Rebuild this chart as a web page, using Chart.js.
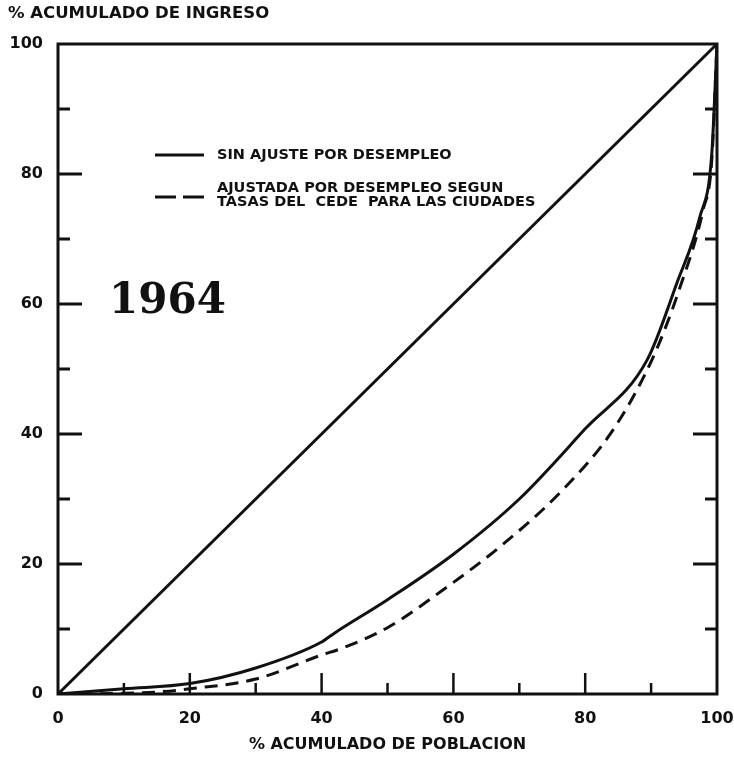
<!DOCTYPE html>
<html>
<head>
<meta charset="utf-8">
<script src="https://cdn.jsdelivr.net/npm/chart.js@4/dist/chart.umd.min.js"></script>
<style>
  body { margin: 0; background: #fff; }
  #wrap { width: 734px; height: 759px; }
</style>
</head>
<body>
<div id="wrap"><canvas id="lorenzChart" width="734" height="759"></canvas></div>
<script>
// % acumulado de poblacion / % acumulado de ingreso
const poblacionSin = [0, 10, 20, 30, 40, 42, 50, 60, 70, 80, 89.4, 93.9, 97.4, 99.2, 100];
const ingresoSin   = [0, 0.8, 1.6, 4, 8, 9.4, 14.5, 21.5, 30, 40.8, 51.4, 63.2, 73.4, 83, 100];

const poblacionAjust = [0, 10, 15, 20, 30, 40, 43, 50, 58.4, 67, 76.2, 84.2, 90.3, 94.4, 97.9, 99.2, 100];
const ingresoAjust   = [0, 0.1, 0.3, 0.8, 2.3, 6, 7, 10.2, 16, 22.6, 31, 40.6, 51.8, 62.6, 74.5, 82, 100];

const igualdadX = [0, 100];
const igualdadY = [0, 100];

const etiquetaSin = 'SIN AJUSTE POR DESEMPLEO';
const etiquetaAjust = 'AJUSTADA POR DESEMPLEO SEGUN\nTASAS DEL  CEDE  PARA LAS CIUDADES';
const tituloX = '% ACUMULADO DE POBLACION';
const tituloY = '% ACUMULADO DE INGRESO';
const anio = '1964';

const tinta = '#111';
const fuente = '"DejaVu Sans", "Liberation Sans", sans-serif';

function puntos(xs, ys) {
    return xs.map((x, i) => ({ x: x, y: ys[i] }));
}

// marco, marcas hacia adentro, leyenda y textos
const marcoPlugin = {
    id: 'marco',
    afterDraw(chart) {
        const c = chart.ctx;
        const a = chart.chartArea;
        const sx = chart.scales.x, sy = chart.scales.y;
        c.save();
        c.strokeStyle = tinta;
        c.lineWidth = 3;
        c.lineCap = 'square';
        c.strokeRect(a.left, a.top, a.right - a.left, a.bottom - a.top);

        c.lineCap = 'butt';
        c.lineWidth = 3;
        sy.ticks.forEach(t => {
            if (t.value <= 0 || t.value >= 100) return;
            const y = sy.getPixelForValue(t.value);
            const largo = t.value % 20 === 0 ? 24 : 12;
            c.beginPath();
            c.moveTo(a.left, y); c.lineTo(a.left + largo, y);
            c.moveTo(a.right, y); c.lineTo(a.right - largo, y);
            c.stroke();
        });
        c.lineWidth = 2.5;
        sx.ticks.forEach(t => {
            if (t.value <= 0 || t.value >= 100) return;
            const x = sx.getPixelForValue(t.value);
            const largo = t.value % 20 === 0 ? 21 : 11;
            c.beginPath();
            c.moveTo(x, a.bottom); c.lineTo(x, a.bottom - largo);
            c.stroke();
        });

        // titulo del eje y
        c.fillStyle = tinta;
        c.font = 'bold 16.5px ' + fuente;
        c.textBaseline = 'middle';
        c.textAlign = 'left';
        c.fillText(tituloY, 8, 14);

        // leyenda
        c.font = 'bold 14.5px ' + fuente;
        const filas = [155, 197];
        chart.data.datasets.filter(d => d.label).forEach((d, i) => {
            const y = filas[i];
            c.strokeStyle = d.borderColor;
            c.lineWidth = 3;
            c.setLineDash(d.borderDash ? [21, 7] : []);
            c.beginPath();
            c.moveTo(155, y); c.lineTo(204, y);
            c.stroke();
            c.setLineDash([]);
            const lineas = d.label.split('\n');
            lineas.forEach((l, j) => {
                const ty = lineas.length > 1 ? y - 9 + j * 14 : y;
                c.fillText(l, 217, ty);
            });
        });

        // anio
        c.font = 'bold 42px "DejaVu Serif", "Liberation Serif", serif';
        c.textBaseline = 'alphabetic';
        c.fillText(anio, 109, 313);
        c.restore();
    }
};

const ctx = document.getElementById('lorenzChart').getContext('2d');
const lorenzChart = new Chart(ctx, {
    type: 'scatter',
    data: {
        datasets: [
            {
                label: etiquetaSin,
                data: puntos(poblacionSin, ingresoSin),
                showLine: true,
                borderColor: tinta,
                borderWidth: 3,
                pointRadius: 0,
                cubicInterpolationMode: 'monotone'
            },
            {
                label: etiquetaAjust,
                data: puntos(poblacionAjust, ingresoAjust),
                showLine: true,
                borderColor: tinta,
                borderWidth: 3,
                borderDash: [13, 8],
                pointRadius: 0,
                cubicInterpolationMode: 'monotone'
            },
            {
                label: '',
                data: puntos(igualdadX, igualdadY),
                showLine: true,
                borderColor: tinta,
                borderWidth: 3,
                pointRadius: 0
            }
        ]
    },
    options: {
        responsive: false,
        animation: false,
        devicePixelRatio: 1,
        layout: { padding: { left: 5, top: 44, right: 17, bottom: 5 } },
        plugins: {
            legend: { display: false },
            tooltip: { enabled: false }
        },
        scales: {
            x: {
                type: 'linear',
                min: 0,
                max: 100,
                grid: { display: false, drawTicks: false },
                border: { display: false },
                ticks: {
                    stepSize: 10,
                    padding: 15,
                    color: tinta,
                    font: { family: fuente, size: 16, weight: 'bold' },
                    callback: v => (v % 20 === 0 ? v : '')
                },
                title: {
                    display: true,
                    text: tituloX,
                    color: tinta,
                    font: { family: fuente, size: 16, weight: 'bold' },
                    padding: { top: 0, bottom: 0 }
                },
                afterFit: s => {
                    s.height = 60;
                    s.paddingLeft = 0;
                    s.paddingRight = 0;
                }
            },
            y: {
                type: 'linear',
                min: 0,
                max: 100,
                grid: { display: false, drawTicks: false },
                border: { display: false },
                ticks: {
                    stepSize: 10,
                    padding: 15,
                    color: tinta,
                    font: { family: fuente, size: 16, weight: 'bold' },
                    callback: v => (v % 20 === 0 ? v : '')
                },
                afterFit: s => {
                    s.width = 53;
                    s.paddingTop = 0;
                    s.paddingBottom = 0;
                }
            }
        }
    },
    plugins: [marcoPlugin]
});
</script>
</body>
</html>
